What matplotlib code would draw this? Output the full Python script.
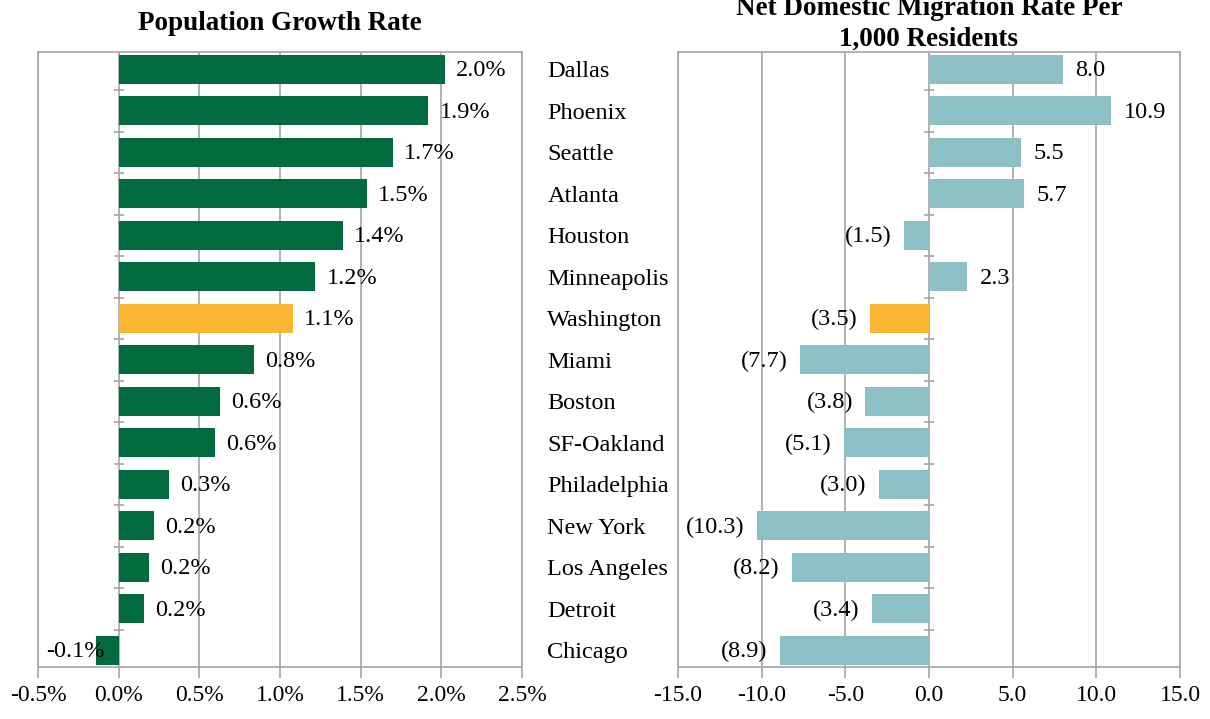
import numpy as np
import matplotlib
matplotlib.use("Agg")
from matplotlib import pyplot as plt

# data
cities = ["Dallas", "Phoenix", "Seattle", "Atlanta", "Houston", "Minneapolis",
          "Washington", "Miami", "Boston", "SF-Oakland", "Philadelphia",
          "New York", "Los Angeles", "Detroit", "Chicago"]
growth = [2.02, 1.92, 1.70, 1.54, 1.39, 1.22, 1.08, 0.84, 0.63, 0.60,
          0.31, 0.22, 0.19, 0.16, -0.14]
migration = [8.0, 10.9, 5.5, 5.7, -1.5, 2.3, -3.5, -7.7, -3.8, -5.1,
             -3.0, -10.3, -8.2, -3.4, -8.9]
highlight = "Washington"

green = "#016B3F"
teal = "#8CC0C4"
gold = "#FBB633"
grid_c = "#A6A6A6"

plt.rcParams["font.family"] = ["Liberation Serif", "DejaVu Serif"]
plt.rcParams["font.size"] = 17

fig = plt.figure(figsize=(12.1, 7.19), dpi=100)
ax1 = fig.add_axes([0.0314, 0.0723, 0.400, 0.8554])
ax2 = fig.add_axes([0.5603, 0.0723, 0.4149, 0.8554])

y = np.arange(len(cities))


def style(ax, xmin, xmax, step):
    ax.set_xlim(xmin, xmax)
    ax.set_ylim(len(cities) - 0.6, -0.42)
    ax.set_xticks(np.arange(xmin, xmax + step / 2, step))
    ax.grid(axis="x", color=grid_c, lw=1.2)
    ax.set_axisbelow(True)
    for s in ax.spines.values():
        s.set_color(grid_c)
        s.set_linewidth(1.2)
    ax.tick_params(axis="x", colors=grid_c, length=8, width=1.2, labelcolor="black",
                   labelsize=17, pad=5)
    # small category ticks on the zero line
    ax.scatter(np.zeros(len(cities) - 1), y[:-1] + 0.5, marker="_", s=60,
               color=grid_c, lw=1.2, zorder=1)


# left: population growth
c1 = [gold if c == highlight else green for c in cities]
ax1.barh(y, growth, height=0.7, color=c1, zorder=2)
style(ax1, -0.5, 2.5, 0.5)
ax1.set_yticks([])
ax1.set_xticklabels([f"{v:.1f}%" for v in np.arange(-0.5, 2.51, 0.5)])
for yi, v in zip(y, growth):
    if v >= 0:
        ax1.annotate(f"{v:.1f}%", (v, yi), xytext=(8, -1), textcoords="offset points",
                     va="center", ha="left", fontsize=17.5)
    else:
        ax1.annotate(f"{v:.1f}%", (v, yi), xytext=(6, -1), textcoords="offset points",
                     va="center", ha="right", fontsize=17.5)
ax1.set_title("Population Growth Rate", fontweight="bold", fontsize=19.5, pad=16)

# right: net domestic migration
c2 = [gold if c == highlight else teal for c in cities]
ax2.barh(y, migration, height=0.7, color=c2, zorder=2)
style(ax2, -15, 15, 5)
ax2.set_xticklabels([f"{v:.1f}" for v in np.arange(-15, 15.1, 5)])
ax2.set_yticks(y)
ax2.set_yticklabels(cities, fontsize=17.5)
ax2.tick_params(axis="y", length=0, pad=94)
for lab in ax2.get_yticklabels():
    lab.set_horizontalalignment("left")
for yi, v in zip(y, migration):
    if v >= 0:
        ax2.annotate(f"{v:.1f}", (v, yi), xytext=(9, -1), textcoords="offset points",
                     va="center", ha="left", fontsize=17.5)
    else:
        ax2.annotate(f"({abs(v):.1f})", (v, yi), xytext=(-9, -1), textcoords="offset points",
                     va="center", ha="right", fontsize=17.5)
ax2.set_title("Net Domestic Migration Rate Per\n1,000 Residents", fontweight="bold",
              fontsize=19.5, pad=0, linespacing=1.3)

fig.savefig("out.png", dpi=100)
